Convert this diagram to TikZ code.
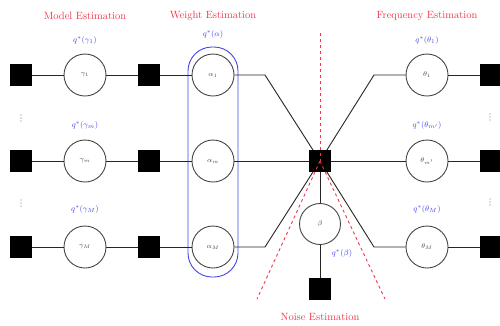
\documentclass[tikz,border=0pt]{standalone}
\usetikzlibrary{positioning}
\definecolor{tred}{RGB}{240,55,75}
\definecolor{tblue}{RGB}{70,70,235}
\definecolor{cgray}{RGB}{70,70,70}
\begin{document}
\begin{tikzpicture}[x=1pt,y=-1pt,
  var/.style={circle,draw=cgray,line width=0.9pt,minimum size=42pt,inner sep=0pt,font=\fontsize{7}{8}\selectfont,text=cgray,fill=white},
  fac/.style={rectangle,fill=black,draw=black,minimum size=21pt,inner sep=0pt},
  ttl/.style={text=tred,font=\fontsize{10.5}{12}\selectfont},
  qlab/.style={text=tblue,font=\fontsize{8.5}{10}\selectfont},
  dotfill/.style={fill=gray},
  edge/.style={line width=0.9pt,draw=black!85},
  rdash/.style={draw=tred,dashed,line width=0.9pt}]
\useasboundingbox (0,0) rectangle (500,325);
\fill[white] (0,0) rectangle (500,325);

% titles
\node[ttl] (t1) at (85,16) {Model Estimation};
\node[ttl] (t2) at (213,16) {Weight Estimation};
\node[ttl] (t3) at (427,16) {Frequency Estimation};
\node[ttl] (t4) at (320,317) {Noise Estimation};

% blue enclosure
\draw[tblue,line width=0.9pt,rounded corners=24pt] (188,47) rectangle (238,277);

% bend points
\coordinate (k1) at (265,75);
\coordinate (k2) at (265,247);
\coordinate (k3) at (374,75);
\coordinate (k4) at (374,247);

% nodes
\node[fac] (f1) at (21,75) {};
\node[fac] (f2) at (21,161) {};
\node[fac] (f3) at (21,247) {};
\node[var] (g1) at (85,75) {$\gamma_1$};
\node[var] (g2) at (85,161) {$\gamma_m$};
\node[var] (g3) at (85,247) {$\gamma_M$};
\node[fac] (h1) at (149,75) {};
\node[fac] (h2) at (149,161) {};
\node[fac] (h3) at (149,247) {};
\node[var] (a1) at (213,75) {$\alpha_1$};
\node[var] (a2) at (213,161) {$\alpha_m$};
\node[var] (a3) at (213,247) {$\alpha_M$};
\node[fac] (c) at (320,161) {};
\node[var,minimum size=41pt] (b) at (320,224) {$\beta$};
\node[fac] (bf) at (320,289) {};
\node[var] (th1) at (427,75) {$\theta_1$};
\node[var] (th2) at (427,161) {$\theta_{m'}$};
\node[var] (th3) at (427,247) {$\theta_M$};
\node[fac] (r1) at (491,75) {};
\node[fac] (r2) at (491,161) {};
\node[fac] (r3) at (491,247) {};

% connectors
\draw[edge] (f1) -- (g1) -- (h1) -- (a1);
\draw[edge] (f2) -- (g2) -- (h2) -- (a2);
\draw[edge] (f3) -- (g3) -- (h3) -- (a3);
\draw[edge] (a1) -- (k1) -- (c);
\draw[edge] (a2) -- (c);
\draw[edge] (a3) -- (k2) -- (c);
\draw[edge] (c) -- (k3) -- (th1);
\draw[edge] (c) -- (th2);
\draw[edge] (c) -- (k4) -- (th3);
\draw[edge] (th1) -- (r1);
\draw[edge] (th2) -- (r2);
\draw[edge] (th3) -- (r3);
\draw[edge] (c) -- (b);
\draw[edge] (b) -- (bf);

% blue labels
\node[qlab] (q1) at (85,40) {$q^*(\gamma_1)$};
\node[qlab] (q2) at (85,125) {$q^*(\gamma_m)$};
\node[qlab] (q3) at (85,209) {$q^*(\gamma_M)$};
\node[qlab] (qa) at (213,34) {$q^*(\alpha)$};
\node[qlab] (q4) at (427,40) {$q^*(\theta_1)$};
\node[qlab] (q5) at (427,125) {$q^*(\theta_{m'})$};
\node[qlab] (q6) at (427,209) {$q^*(\theta_M)$};
\node[qlab] (qb) at (342,253) {$q^*(\beta)$};

% vertical dots
\foreach \x/\y in {21/118, 21/203, 490/117, 490/202}{
  \foreach \d in {-3,0,3}{
    \fill[dotfill] (\x,\y+\d) circle (0.55pt);
  }
}

% red dashed lines
\coordinate (rt) at (320,33);
\coordinate (rl) at (257,299);
\coordinate (rr) at (385,299);
\draw[rdash] (rt) -- (c.center);
\draw[rdash] (c.center) -- (rl);
\draw[rdash] (c.center) -- (rr);
\end{tikzpicture}
\end{document}
